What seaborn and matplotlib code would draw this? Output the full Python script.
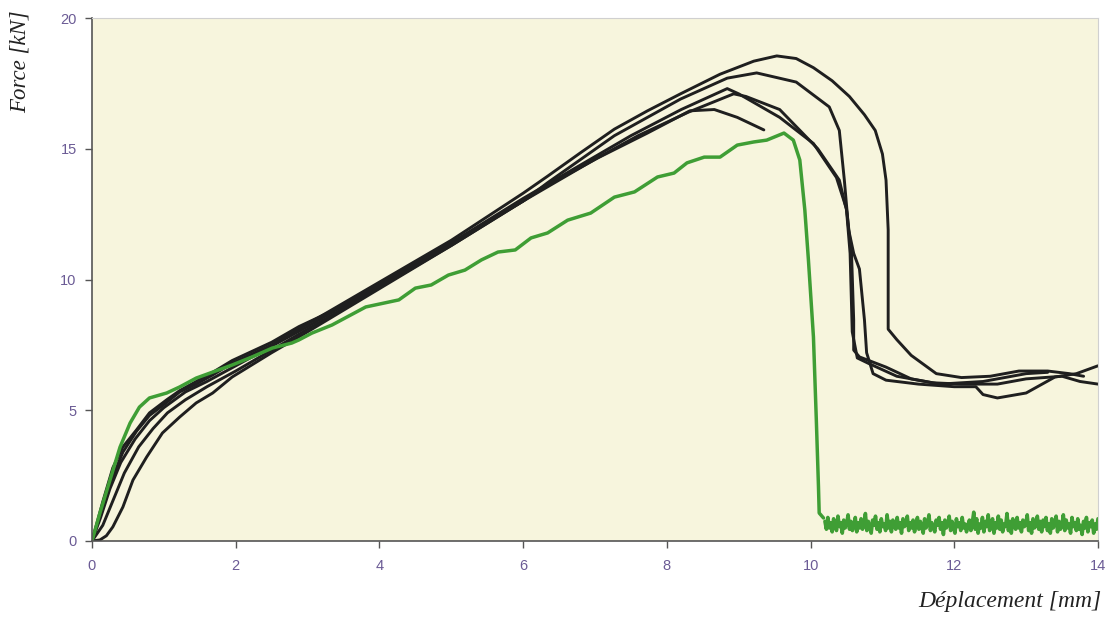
import numpy as np
import pandas as pd
import matplotlib
matplotlib.use('Agg')
import matplotlib.pyplot as plt
import seaborn as sns

# black test curves
xa = [0, 0.15, 0.29, 0.43, 0.62, 0.8, 1.04, 1.22, 1.45, 1.68, 1.95, 2.5, 2.88, 3.5, 4.0, 5.0, 6.0, 6.34, 7.04, 7.73,
      8.32, 8.66, 8.98, 9.35]
ya = [0, 1.5, 2.8, 3.6, 4.25, 4.9, 5.4, 5.75, 6.1, 6.45, 6.9, 7.6, 8.2, 9.0, 9.8, 11.4, 13.0, 13.6, 14.65, 15.6,
      16.45, 16.5, 16.2, 15.72]

xb = [0, 0.12, 0.25, 0.4, 0.6, 0.8, 1.0, 1.3, 1.6, 2.0, 2.5, 3.0, 4.0, 5.0, 6.0, 7.0, 7.5, 8.2, 8.84, 9.0, 9.57,
      10.04, 10.36, 10.5, 10.57, 10.6, 10.6, 10.68, 11.05, 11.4, 11.7, 12.1, 12.6, 13.0, 13.5, 13.75, 14.0]
yb = [0, 0.9, 2.0, 3.0, 3.9, 4.6, 5.1, 5.7, 6.1, 6.7, 7.45, 8.2, 9.8, 11.4, 13.1, 14.7, 15.5, 16.5, 17.3, 17.1, 16.2,
      15.2, 13.9, 12.7, 11.0, 8.45, 7.3, 7.04, 6.65, 6.2, 6.05, 6.0, 6.0, 6.2, 6.3, 6.1, 6.0]

xc = [0, 0.15, 0.3, 0.45, 0.65, 0.85, 1.05, 1.3, 1.6, 2.0, 2.5, 3.0, 4.0, 5.0, 6.0, 7.0, 7.6, 8.3, 8.93, 9.1, 9.57,
      10.1, 10.4, 10.5, 10.55, 10.58, 10.65, 10.8, 11.2, 11.8, 12.4, 13.0, 13.3]
yc = [0, 0.6, 1.6, 2.6, 3.6, 4.3, 4.9, 5.4, 5.9, 6.5, 7.3, 8.1, 9.7, 11.3, 13.0, 14.6, 15.5, 16.4, 17.1, 17.0, 16.5,
      15.0, 13.8, 12.66, 11.0, 8.0, 7.0, 6.8, 6.3, 6.0, 6.1, 6.4, 6.45]

xd = [0, 0.11, 0.2, 0.29, 0.43, 0.57, 0.76, 0.98, 1.22, 1.45, 1.68, 1.95, 2.5, 3.0, 4.0, 5.0, 6.0, 6.34, 7.27, 8.19,
      8.84, 9.25, 9.8, 10.26, 10.4, 10.47, 10.53, 10.6, 10.68, 10.75, 10.78, 10.87, 11.05, 11.5, 12.0, 12.3, 12.4,
      12.6, 13.0, 13.4, 13.7, 14.0]
yd = [0, 0.04, 0.2, 0.54, 1.3, 2.33, 3.21, 4.13, 4.74, 5.28, 5.66, 6.27, 7.2, 8.0, 9.65, 11.3, 13.0, 13.7, 15.5, 16.9,
      17.7, 17.9, 17.55, 16.6, 15.7, 13.8, 11.9, 11.0, 10.4, 8.45, 7.2, 6.4, 6.15, 6.0, 5.9, 5.9, 5.6, 5.47, 5.66,
      6.27, 6.4, 6.7]

xe = [0, 0.1, 0.25, 0.43, 0.62, 0.8, 1.04, 1.22, 1.45, 1.68, 1.95, 2.5, 3.0, 4.0, 5.0, 6.0, 6.34, 6.8, 7.27, 7.73,
      8.19, 8.74, 9.21, 9.53, 9.8, 10.04, 10.3, 10.54, 10.75, 10.9, 11.0, 11.05, 11.08, 11.08, 11.2, 11.4, 11.75,
      12.1, 12.5, 12.9, 13.3, 13.6, 13.8]
ye = [0, 0.9, 2.2, 3.4, 4.2, 4.8, 5.3, 5.7, 6.0, 6.35, 6.8, 7.5, 8.3, 9.9, 11.5, 13.3, 13.95, 14.85, 15.75, 16.45,
      17.1, 17.85, 18.35, 18.55, 18.45, 18.1, 17.6, 17.0, 16.3, 15.7, 14.8, 13.8, 11.9, 8.1, 7.7, 7.1, 6.4, 6.25,
      6.3, 6.5, 6.5, 6.4, 6.3]

# green curve
xg = [0, 0.11, 0.25, 0.39, 0.53, 0.66, 0.8, 1.04, 1.22, 1.45, 1.68, 1.95, 2.23, 2.51, 2.78, 2.88, 3.06, 3.34, 3.81,
      4.27, 4.5, 4.72, 4.96, 5.19, 5.42, 5.65, 5.89, 6.11, 6.34, 6.62, 6.94, 7.27, 7.55, 7.87, 8.1, 8.28, 8.52,
      8.74, 8.98, 9.21, 9.39, 9.63, 9.76, 9.85, 9.92, 9.97, 10.04, 10.08, 10.11, 10.12, 10.18]
yg = [0, 1.07, 2.33, 3.59, 4.51, 5.12, 5.47, 5.66, 5.89, 6.23, 6.46, 6.73, 7.04, 7.38, 7.57, 7.69, 7.95, 8.26, 8.95,
      9.22, 9.67, 9.79, 10.17, 10.36, 10.75, 11.05, 11.13, 11.59, 11.78, 12.27, 12.54, 13.15, 13.35, 13.92, 14.07,
      14.46, 14.68, 14.68, 15.14, 15.26, 15.33, 15.6, 15.33, 14.57, 12.66, 10.75, 7.8, 4.63, 2.07, 1.07, 0.88]

# residual signal after rupture (green)
noise = [0.75, 0.45, 0.9, 0.5, 0.7, 0.35, 0.85, 0.6, 0.4, 0.95, 0.55, 0.7, 0.3, 0.8, 0.5, 0.65, 1.0, 0.45, 0.75, 0.4,
         0.6, 0.9, 0.35, 0.7, 0.5, 0.85, 0.45, 0.65, 1.05, 0.4, 0.75, 0.55, 0.3, 0.8, 0.6, 0.95, 0.45, 0.7, 0.35, 0.85,
         0.55, 0.65, 0.4, 1.0, 0.5, 0.75, 0.35, 0.8, 0.6, 0.45, 0.9, 0.5, 0.7, 0.3, 0.85, 0.55, 0.65, 0.95, 0.4, 0.7,
         0.5, 0.8, 0.35, 0.6, 0.9, 0.45, 0.75, 0.55, 0.3, 0.85, 0.5, 0.65, 1.0, 0.4, 0.7, 0.55, 0.35, 0.8, 0.6, 0.9,
         0.45, 0.7, 0.25, 0.8, 0.5, 0.65, 0.95, 0.4, 0.75, 0.5, 0.3, 0.85, 0.55, 0.7, 0.4, 0.9, 0.5, 0.65, 0.35, 0.6,
         0.8, 0.4, 0.7, 1.1, 0.45, 0.85, 0.3, 0.65, 0.5, 0.9, 0.35, 0.75, 0.55, 1.0, 0.4, 0.6, 0.85, 0.3, 0.7, 0.5,
         0.95, 0.45, 0.8, 0.35, 0.65, 0.55, 1.05, 0.4, 0.75, 0.3, 0.85, 0.6, 0.45, 0.9, 0.5, 0.7, 0.35, 0.8, 0.55, 0.65,
         1.0, 0.4, 0.7, 0.3, 0.85, 0.5, 0.6, 0.95, 0.45, 0.75, 0.35, 0.8, 0.55, 0.9, 0.4, 0.65, 0.3, 0.85, 0.5, 0.7,
         0.95, 0.35, 0.75, 0.45, 0.6, 1.0, 0.4, 0.8, 0.5, 0.65, 0.3, 0.9, 0.55, 0.7, 0.4, 0.85, 0.45, 0.6, 0.25, 0.75,
         0.5, 0.9, 0.35, 0.7, 0.55, 0.8, 0.3, 0.65, 0.45, 0.85]
noise_start, noise_end = 10.2, 14.0

xticks = [0, 2, 4, 6, 8, 10, 12, 14]
yticks = [0, 5, 10, 15, 20]

sns.set_style('white')
plt.rcParams['font.family'] = ['Liberation Sans', 'DejaVu Sans']

fig = plt.figure(figsize=(11.1, 6.17), dpi=100)
ax = fig.add_axes([92 / 1110, 1 - 541 / 617, (1098 - 92) / 1110, (541 - 18) / 617])
ax.set_facecolor('#f7f5dd')

black = '#1f1f1f'
for xs, ys in [(xa, ya), (xb, yb), (xc, yc), (xd, yd), (xe, ye)]:
    sns.lineplot(x=xs, y=ys, sort=False, estimator=None, color=black, lw=2.1, ax=ax)

green = '#3f9e35'
sns.lineplot(x=xg, y=yg, sort=False, estimator=None, color=green, lw=2.5, ax=ax)
xn = np.linspace(noise_start, noise_end, len(noise))
sns.lineplot(x=xn, y=noise, sort=False, estimator=None, color=green, lw=2.6, ax=ax)

ax.set_xlim(0, 14)
ax.set_ylim(0, 20)
ax.set_xticks(xticks)
ax.set_yticks(yticks)
ax.tick_params(axis='both', direction='out', length=5, width=1, color='#555555',
               labelcolor='#6b5b95', labelsize=10.5, left=True, bottom=True)
ax.tick_params(axis='x', pad=8)
ax.tick_params(axis='y', pad=6)
ax.set_xlabel('')
ax.set_ylabel('')
for s in ['left', 'bottom']:
    ax.spines[s].set_color('#555555')
    ax.spines[s].set_linewidth(1.2)
for s in ['top', 'right']:
    ax.spines[s].set_color('#d0d0d0')
    ax.spines[s].set_linewidth(0.8)

fig.text(20 / 1110, 1 - 62 / 617, 'Force [kN]', rotation=90, ha='center', va='center',
         family='Liberation Serif', style='italic', fontsize=16.5, color='#222222')
fig.text(1102 / 1110, 1 - 601 / 617, 'Déplacement [mm]', ha='right', va='center',
         family='Liberation Serif', style='italic', fontsize=17, color='#222222')

fig.savefig('out.png', dpi=100)
